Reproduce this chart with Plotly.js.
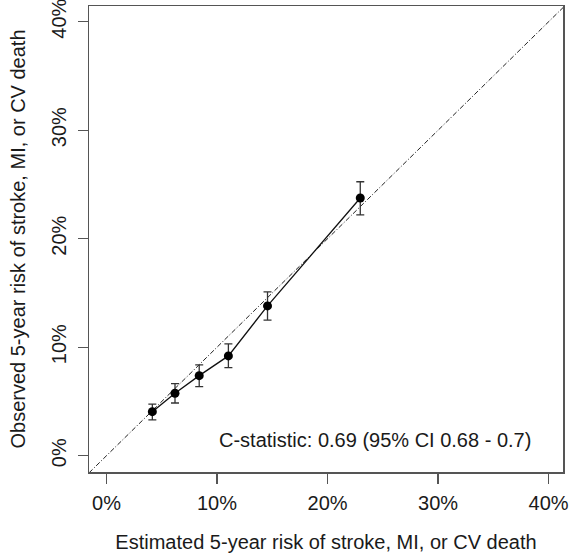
<!DOCTYPE html>
<html>
<head>
<meta charset="utf-8">
<script src="https://cdn.plot.ly/plotly-3.0.1.min.js"></script>
<style>html,body{margin:0;padding:0;background:#fff;}#chart{width:569px;height:558px;}</style>
</head>
<body>
<div id="chart"></div>
<script>
// Calibration data (fractions)
const estimated = [0.0415, 0.062, 0.0839, 0.1103, 0.1457, 0.2296];
const observed  = [0.0406, 0.0576, 0.0738, 0.0920, 0.1381, 0.2375];
const ciUpper   = [0.0475, 0.0664, 0.0837, 0.1030, 0.1510, 0.2525];
const ciLower   = [0.0330, 0.0486, 0.0637, 0.0812, 0.1249, 0.2220];
const tickValues = [0, 0.1, 0.2, 0.3, 0.4];
const tickLabels = ['0%', '10%', '20%', '30%', '40%'];
const xRange = [-0.0158, 0.413];
const yRange = [-0.015, 0.4145];
const cStatText = 'C-statistic: 0.69 (95% CI 0.68 - 0.7)';

const errPlus = observed.map((v, i) => ciUpper[i] - v);
const errMinus = observed.map((v, i) => v - ciLower[i]);

const lo = Math.min(xRange[0], yRange[0]);
const hi = Math.max(xRange[1], yRange[1]);

const traces = [
  {
    x: [lo, hi], y: [lo, hi],
    mode: 'lines', type: 'scatter',
    line: {color: '#222', width: 1, dash: '5px,2px,1px,2px'},
    hoverinfo: 'skip', showlegend: false
  },
  {
    x: estimated, y: observed,
    mode: 'lines+markers', type: 'scatter',
    line: {color: '#111', width: 1.3},
    marker: {color: '#000', size: 9},
    error_y: {type: 'data', symmetric: false, array: errPlus, arrayminus: errMinus,
              color: '#333', thickness: 1.3, width: 4},
    showlegend: false
  }
];

const fam = 'Liberation Sans, Arial, sans-serif';
const txtColor = '#1a1a1a';

const layout = {
  width: 569, height: 558,
  margin: {l: 89, r: 6, t: 6, b: 86},
  paper_bgcolor: '#fff', plot_bgcolor: '#fff',
  font: {family: fam, color: txtColor},
  showlegend: false,
  xaxis: {
    range: xRange, tickvals: tickValues, ticktext: tickLabels,
    showgrid: false, zeroline: false,
    showline: true, mirror: true, linecolor: '#555', linewidth: 1.5,
    ticks: 'outside', ticklen: 10, tickwidth: 1.2, tickcolor: '#555',
    ticklabelstandoff: 2, ticklabeloverflow: 'allow',
    tickfont: {size: 20, family: fam, color: txtColor},
    title: {text: 'Estimated 5-year risk of stroke, MI, or CV death',
            font: {size: 20, family: fam, color: txtColor}, standoff: 22}
  },
  yaxis: {
    range: yRange, tickvals: tickValues, ticktext: tickLabels,
    showgrid: false, zeroline: false,
    showline: true, mirror: true, linecolor: '#555', linewidth: 1.5,
    ticks: 'outside', ticklen: 10, tickwidth: 1.2, tickcolor: '#555',
    tickangle: -90,
    ticklabelstandoff: 4, ticklabeloverflow: 'allow',
    tickfont: {size: 20, family: fam, color: txtColor},
    title: {text: 'Observed 5-year risk of stroke, MI, or CV death',
            font: {size: 20, family: fam, color: txtColor}, standoff: 16}
  },
  annotations: [{
    x: 0.3858, y: 0.0145, xref: 'x', yref: 'y',
    text: cStatText, showarrow: false,
    xanchor: 'right', yanchor: 'middle',
    font: {size: 20, family: fam, color: txtColor}
  }]
};

Plotly.newPlot('chart', traces, layout, {staticPlot: true, displayModeBar: false});
</script>
</body>
</html>
